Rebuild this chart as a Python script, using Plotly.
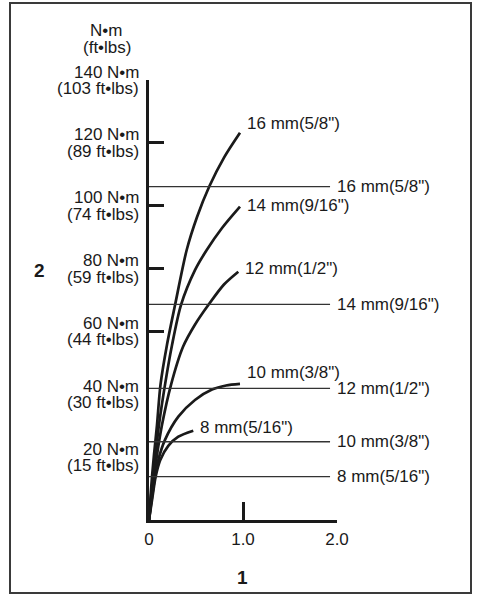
import plotly.graph_objects as go

# curve data: x (axis "1") and torque in N·m (axis "2")
curve_names = ['16 mm(5/8")', '14 mm(9/16")', '12 mm(1/2")', '10 mm(3/8")', '8 mm(5/16")']

x_16 = [0, 0.016, 0.032, 0.053, 0.085, 0.122, 0.191, 0.277, 0.401, 0.511, 0.641, 0.798, 0.968]
y_16 = [0, 7.3, 13.7, 20.7, 30.2, 43.0, 55.7, 68.4, 85.9, 96.4, 106.1, 115.3, 123.2]

x_14 = [0, 0.021, 0.043, 0.069, 0.106, 0.170, 0.245, 0.340, 0.489, 0.614, 0.777, 0.968]
y_14 = [0, 7.3, 13.7, 20.7, 30.2, 43.0, 55.7, 68.4, 79.5, 85.9, 92.9, 99.7]

x_12 = [0, 0.027, 0.053, 0.085, 0.138, 0.234, 0.362, 0.490, 0.631, 0.800, 0.950]
y_12 = [0, 7.3, 13.7, 20.7, 30.2, 43.0, 55.1, 62.2, 68.4, 75.0, 79.0]

x_10 = [0, 0.032, 0.064, 0.099, 0.170, 0.312, 0.489, 0.670, 0.820, 0.968]
y_10 = [0, 7.3, 13.7, 19.1, 25.5, 32.9, 38.2, 41.5, 42.8, 43.3]

x_8 = [0, 0.037, 0.070, 0.120, 0.205, 0.312, 0.471]
y_8 = [0, 7.3, 13.7, 19.1, 23.6, 26.5, 28.4]

curves_x = [x_16, x_14, x_12, x_10, x_8]
curves_y = [y_16, y_14, y_12, y_10, y_8]

# reference lines (N·m)
ref_names = ['16 mm(5/8")', '14 mm(9/16")', '12 mm(1/2")', '10 mm(3/8")', '8 mm(5/16")']
ref_values = [106.1, 68.6, 41.9, 24.9, 13.8]
ref_end = 1.926

# y ticks (labels at every step, tick marks only from 60 up)
y_ticks = [20, 40, 60, 80, 100, 120, 140]
y_nm = ['20 N•m', '40 N•m', '60 N•m', '80 N•m', '100 N•m', '120 N•m', '140 N•m']
y_ft = ['(15 ft•lbs)', '(30 ft•lbs)', '(44 ft•lbs)', '(59 ft•lbs)', '(74 ft•lbs)', '(89 ft•lbs)', '(103 ft•lbs)']
y_marks = y_ticks[2:]

# x ticks
x_ticks = [0, 1, 2]
x_text = ['0', '1.0', '2.0']

# label vertical offsets for curve end labels (style)
label_dy = [9, 1.5, 3, 11, 3]

FONT = 'Liberation Sans, Arial, sans-serif'
INK = '#1a1a1a'

W, H = 477, 595
L, R, T, B = 149, 140, 80, 75
PW, PH = W - L - R, H - T - B


def px_x(px):
    return (px - L) / PW


def px_y(py):
    return (H - B - py) / PH


fig = go.Figure()

for xs, ys in zip(curves_x, curves_y):
    fig.add_trace(go.Scatter(x=xs, y=ys, mode='lines', line=dict(color=INK, width=2.7, shape='spline', smoothing=0.8),
                             hoverinfo='skip', showlegend=False))

for v in ref_values:
    fig.add_trace(go.Scatter(x=[0, ref_end], y=[v, v], mode='lines', line=dict(color='#333333', width=1.3),
                             hoverinfo='skip', showlegend=False))

annotations = []

# curve end labels
for name, xs, ys, dy in zip(curve_names, curves_x, curves_y, label_dy):
    annotations.append(dict(x=xs[-1], y=ys[-1], text=name, showarrow=False, xanchor='left', yanchor='middle',
                            xshift=5, yshift=dy, font=dict(size=17, color=INK, family=FONT)))

# reference line labels
for name, v in zip(ref_names, ref_values):
    annotations.append(dict(x=ref_end, y=v, text=name, showarrow=False, xanchor='left', yanchor='middle',
                            xshift=5, font=dict(size=17, color=INK, family=FONT)))

# two-line y tick labels
for t, a, b in zip(y_ticks, y_nm, y_ft):
    annotations.append(dict(x=0, y=t, text=a, showarrow=False, xanchor='right', yanchor='middle',
                            xshift=-9, yshift=8, borderpad=0, font=dict(size=17, color=INK, family=FONT)))
    annotations.append(dict(x=0, y=t, text=b, showarrow=False, xanchor='right', yanchor='middle',
                            xshift=-9, yshift=-8.5, borderpad=0, font=dict(size=17, color=INK, family=FONT)))

# unit header and axis titles
header = [('N•m', 106, 30.5, 17, False), ('(ft•lbs)', 106.5, 47, 17, False),
          ('2', 39, 270, 19, True), ('1', 242, 577, 19, True)]
for text, hx, hy, size, bold in header:
    annotations.append(dict(x=px_x(hx), y=px_y(hy), xref='paper', yref='paper',
                            text=f'<b>{text}</b>' if bold else text, showarrow=False,
                            xanchor='center', yanchor='middle',
                            font=dict(size=size, color=INK, family=FONT)))

fig.update_layout(
    width=W, height=H, autosize=False,
    margin=dict(l=L, r=R, t=T, b=B),
    paper_bgcolor='white', plot_bgcolor='white',
    showlegend=False,
    annotations=annotations,
    shapes=[dict(type='rect', xref='paper', yref='paper',
                 x0=px_x(10), x1=px_x(471), y0=px_y(593), y1=px_y(3),
                 line=dict(color='#3a3a3a', width=2), fillcolor='rgba(0,0,0,0)', layer='below')],
    xaxis=dict(range=[0, 2], showgrid=False, zeroline=False, showline=True, linecolor=INK, linewidth=3,
               ticks='inside', ticklen=18, tickwidth=2.5, tickcolor=INK,
               tickvals=x_ticks, ticktext=x_text, ticklabelstandoff=2,
               tickfont=dict(size=17, color=INK, family=FONT), fixedrange=True),
    yaxis=dict(range=[0, 140], showgrid=False, zeroline=False, showline=True, linecolor=INK, linewidth=3,
               ticks='inside', ticklen=15, tickwidth=3, tickcolor=INK,
               tickvals=y_marks, showticklabels=False, fixedrange=True),
)

# drop the default body margin so the figure fills the window exactly
fig.write_html("out.html", config={'displayModeBar': False},
               post_script="document.body.style.margin='0';")
